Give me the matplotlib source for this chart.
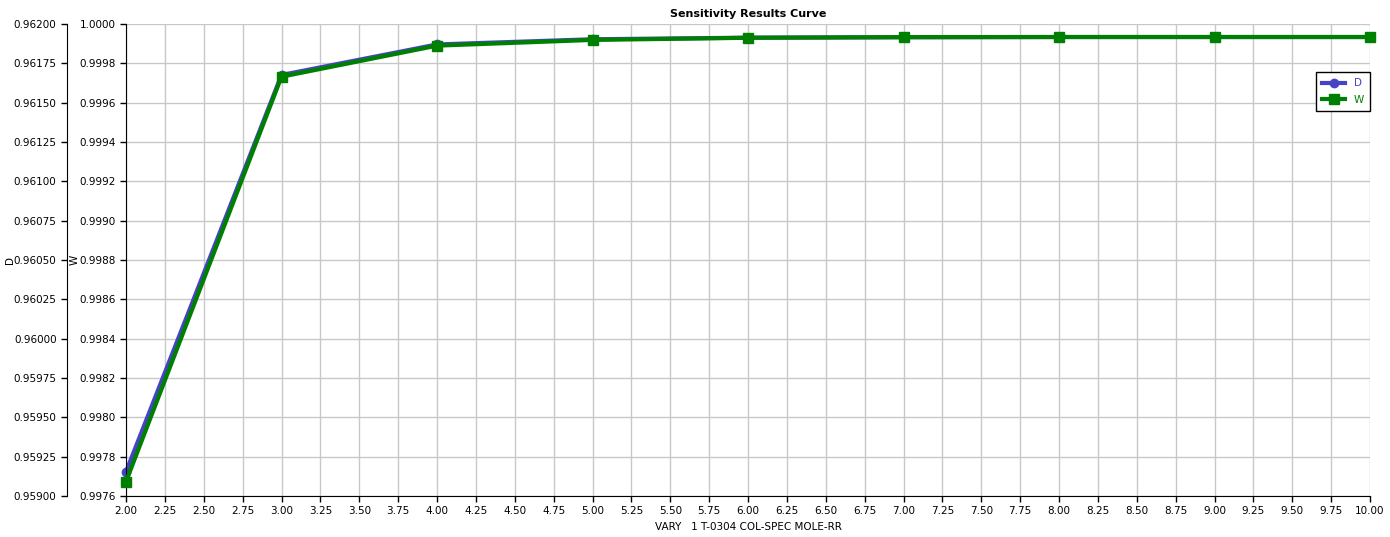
import matplotlib
matplotlib.use("Agg")
import matplotlib.pyplot as plt
from matplotlib.ticker import FixedLocator, FormatStrFormatter
import numpy as np

x_vals = [2, 3, 4, 5, 6, 7, 8, 9, 10]
d_vals = [0.959154, 0.961676, 0.961870, 0.961903, 0.961913, 0.961916, 0.961917, 0.961917, 0.961917]
w_vals = [0.997673, 0.999732, 0.999890, 0.999919, 0.999930, 0.999933, 0.999934, 0.999934, 0.999934]
x_ticks = np.arange(2.0, 10.001, 0.25)
d_ticks = [0.959 + 0.00025 * i for i in range(13)]
w_ticks = [0.9976 + 0.0002 * i for i in range(13)]

title = "Sensitivity Results Curve"
xlabel = "VARY   1 T-0304 COL-SPEC MOLE-RR"

plt.rcParams['font.family'] = ['DejaVu Sans']
fig = plt.figure(figsize=(13.9, 5.37), dpi=100)
W, H = 1390, 537
left, right, top, bottom = 126, 1370, 24, 496
ax_d = fig.add_axes([left / W, (H - bottom) / H, (right - left) / W, (bottom - top) / H])
ax_w = ax_d.twinx()

blue = "#4444C4"
green = "#008000"
fs = 7.5

# D axis (host, draws grid)
ax_d.plot(x_vals, d_vals, color=blue, lw=3, marker='o', ms=6, label='D', zorder=3, clip_on=False)
ax_d.set_ylim(0.959, 0.962)
ax_d.set_xlim(2, 10)
ax_d.yaxis.set_major_locator(FixedLocator(d_ticks))
ax_d.yaxis.set_major_formatter(FormatStrFormatter('%.5f'))
ax_d.xaxis.set_major_locator(FixedLocator(x_ticks))
ax_d.xaxis.set_major_formatter(FormatStrFormatter('%.2f'))
ax_d.grid(True, color='#C8C8C8', lw=1)
ax_d.set_axisbelow(True)
for s in ['top', 'right']:
    ax_d.spines[s].set_visible(False)
ax_d.spines['left'].set_position(('outward', 59 * 72 / 100))
ax_d.tick_params(axis='both', labelsize=fs, length=4, width=1, direction='out')
ax_d.set_ylabel('D', fontsize=fs)
ax_d.yaxis.set_label_coords(-0.089, 0.5)
ax_d.set_xlabel(xlabel, fontsize=fs, labelpad=4)

# W axis (on top, also on the left)
ax_w.plot(x_vals, w_vals, color=green, lw=3, marker='s', ms=7.5, label='W', zorder=4, clip_on=False)
ax_w.set_ylim(0.9976, 1.0000)
ax_w.yaxis.set_major_locator(FixedLocator(w_ticks))
ax_w.yaxis.set_major_formatter(FormatStrFormatter('%.4f'))
ax_w.yaxis.tick_left()
ax_w.yaxis.set_label_position('left')
for s in ['top', 'right', 'bottom']:
    ax_w.spines[s].set_visible(False)
ax_w.spines['left'].set_visible(True)
ax_w.tick_params(axis='y', labelsize=fs, length=4, width=1, direction='out')
ax_w.set_ylabel('W', fontsize=fs)
ax_w.yaxis.set_label_coords(-0.037, 0.5)

ax_d.set_title(title, fontsize=8, fontweight='bold', pad=5)

h1, l1 = ax_d.get_legend_handles_labels()
h2, l2 = ax_w.get_legend_handles_labels()
leg = ax_w.legend(h1 + h2, l1 + l2, loc='upper right', bbox_to_anchor=(1.0, 0.898),
                  borderaxespad=0, fontsize=fs, frameon=True, fancybox=False, framealpha=1,
                  edgecolor='black', handlelength=2.2, borderpad=0.6, labelspacing=0.6)
leg.get_frame().set_linewidth(1)
for t, c in zip(leg.get_texts(), [blue, green]):
    t.set_color(c)

fig.savefig('out.png', dpi=100)
